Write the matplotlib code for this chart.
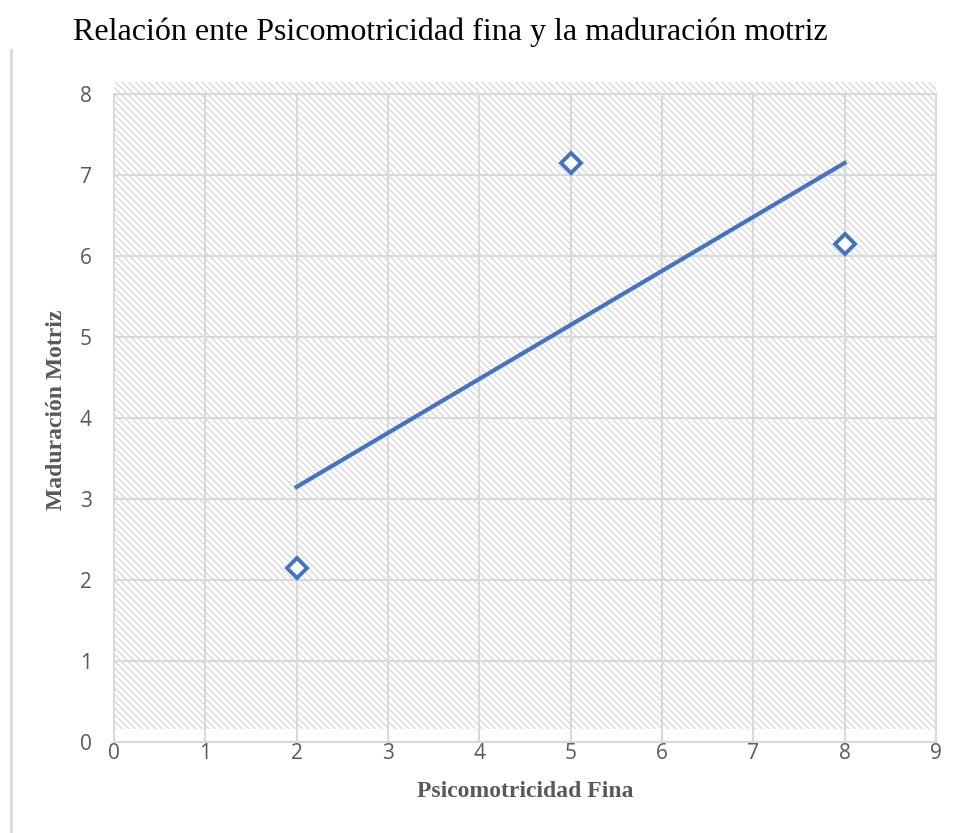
import numpy as np
import matplotlib.pyplot as plt
from matplotlib.patches import Rectangle
from matplotlib.lines import Line2D

# data
x_vals = [2, 5, 8]
y_vals = [2.15, 7.15, 6.15]
x_ticks = [0, 1, 2, 3, 4, 5, 6, 7, 8, 9]
y_ticks = [0, 1, 2, 3, 4, 5, 6, 7, 8]

title = "Relación ente Psicomotricidad fina y la maduración motriz"
xlabel = "Psicomotricidad Fina"
ylabel = "Maduración Motriz"

blue = "#4472C4"
grid_col = "#d9d9d9"
tick_col = "#595959"

plt.rcParams["hatch.linewidth"] = 1.0
plt.rcParams["hatch.color"] = "#d9d9d9"

fig = plt.figure(figsize=(9.56, 8.33), dpi=100)
ax = fig.add_axes([0.1192, 0.1092, 0.979 - 0.1192, 0.887 - 0.1092])

# hatched plot area (slightly shifted up, like the original)
ax.add_patch(Rectangle((0, 0.02), 1, 0.9985, transform=ax.transAxes,
                       facecolor="white", edgecolor="#d9d9d9", hatch="\\\\\\\\\\",
                       linewidth=0, clip_on=False, zorder=0))

ax.set_xlim(0, 9)
ax.set_ylim(0, 8)
ax.set_xticks(x_ticks)
ax.set_yticks(y_ticks)
ax.grid(True, color=grid_col, linewidth=1.5, zorder=1)
ax.set_axisbelow(True)
for s in ax.spines.values():
    s.set_color(grid_col)
    s.set_linewidth(1.5)
ax.tick_params(length=0, labelsize=15, labelcolor=tick_col)
for lab in ax.get_xticklabels() + ax.get_yticklabels():
    lab.set_fontfamily("Open Sans")
ax.tick_params(axis="y", pad=16)
ax.tick_params(axis="x", pad=1)

# trend line
fit = np.polyfit(x_vals, y_vals, 1)
xs = np.array([min(x_vals), max(x_vals)])
ax.plot(xs, np.polyval(fit, xs), color=blue, linewidth=3, zorder=3)
ax.plot(x_vals, y_vals, linestyle="none", marker="D", markersize=10,
        markerfacecolor="white", markeredgecolor=blue, markeredgewidth=2.8,
        zorder=4, clip_on=False)

fig.text(0.471, 0.961, title, ha="center", va="center",
         fontsize=23, family="Liberation Serif")
ax.set_xlabel(xlabel, fontsize=17, fontweight="bold", family="Liberation Serif",
              color=tick_col, labelpad=12)
ax.set_ylabel(ylabel, fontsize=17, fontweight="bold", family="Liberation Serif",
              color=tick_col)
ax.yaxis.set_label_coords(-0.057, 0.512)

# chart border left edge
fig.add_artist(Line2D([0.0115, 0.0115], [0.0, 0.94], color=grid_col,
                      linewidth=2, transform=fig.transFigure))

fig.savefig("out.png", dpi=100)
